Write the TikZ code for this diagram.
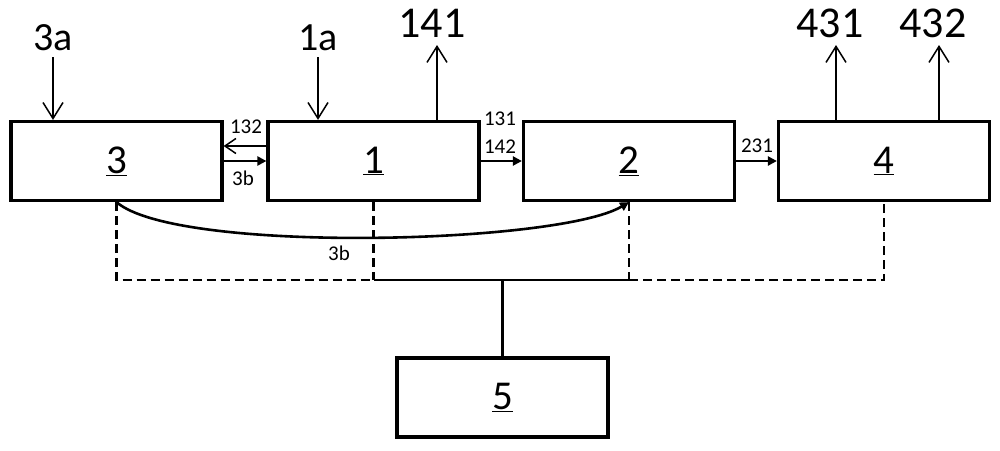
\documentclass[tikz,border=0pt]{standalone}
\usepackage{fontspec}
\setmainfont{Carlito}
\usetikzlibrary{arrows.meta}
\begin{document}
\begin{tikzpicture}[x=1pt,y=-1pt,
  box/.style={draw, line width=3.2pt, minimum width=211pt, minimum height=79pt, inner sep=0pt, font=\fontsize{41}{41}\selectfont},
  big/.style={font=\fontsize{44}{44}\selectfont, anchor=base, inner sep=0pt},
  mid/.style={font=\fontsize{40}{40}\selectfont, anchor=base, inner sep=0pt},
  small/.style={font=\fontsize{21}{21}\selectfont, anchor=base, inner sep=0pt},
  oarr/.style={line width=1.5pt, -{Straight Barb[length=16pt,width=20pt]}},
  oarrs/.style={line width=1.5pt, -{Straight Barb[length=11pt,width=15pt]}},
  farr/.style={line width=2.2pt, -{Triangle[length=9pt,width=9pt]}},
  dsh/.style={line width=2.6pt, dash pattern=on 9pt off 5pt},
  bus/.style={line width=2.6pt},
]
\useasboundingbox (0,0) rectangle (1000,450);
% boxes
\node[box] (b3) at (116.5,161) {\underline{3}};
\node[box] (b1) at (373.5,161) {\underline{1}};
\node[box] (b2) at (629,161) {\underline{2}};
\node[box] (b4) at (884,161) {\underline{4}};
\node[box] (b5) at (502.5,397.5) {\underline{5}};
% top labels
\node[mid] (l3a) at (53,50) {3a};
\node[mid] (l1a) at (318,50) {1a};
\node[big] (l141) at (432,37) {141};
\node[big] (l431) at (830,37) {431};
\node[big] (l432) at (933,37) {432};
% top arrows
\coordinate (s3a) at (53,57);
\coordinate (s1a) at (318,57);
\coordinate (t141) at (437,45);
\coordinate (t431) at (836,45);
\coordinate (t432) at (939,45);
\draw[oarr] (s3a) -- (s3a |- b3.north);
\draw[oarr] (s1a) -- (s1a |- b1.north);
\draw[oarr] (t141 |- b1.north) -- (t141);
\draw[oarr] (t431 |- b4.north) -- (t431);
\draw[oarr] (t432 |- b4.north) -- (t432);
% small labels and side arrows
\node[small] (l132) at (246,133) {132};
\node[small] (l3b) at (243,185) {3b};
\node[small] (l131) at (500,125) {131};
\node[small] (l142) at (500,153) {142};
\node[small] (l231) at (757,152) {231};
\node[small] (l3bb) at (339,260) {3b};
\draw[oarrs] (b1.west |- 0,146) -- (b3.east |- 0,146);
\draw[farr] (b3.east |- 0,161) -- (b1.west |- 0,161);
\draw[farr] (b1.east |- 0,161) -- (b2.west |- 0,161);
\draw[farr] (b2.east |- 0,161) -- (b4.west |- 0,161);
% curve 3b
\draw[farr, line width=2.6pt] (b3.south) .. controls +(60,52) and +(-70,42) .. (b2.south);
% control bus
\coordinate (c3) at (b3.south |- 0,280);
\coordinate (c1) at (b1.south |- 0,280);
\coordinate (c2) at (b2.south |- 0,280);
\coordinate (c4) at (b4.south |- 0,280);
\coordinate (c5) at (b5.north |- 0,280);
\draw[dsh] (b3.south) -- (c3) -- (c1);
\draw[dsh] (b1.south) -- (c1);
\draw[dsh] (b2.south) -- (c2);
\draw[dsh] (c2) -- (c4) -- (b4.south);
\draw[bus] (c1) -- (c2);
\draw[bus] (c5) -- (b5.north);
\end{tikzpicture}
\end{document}
